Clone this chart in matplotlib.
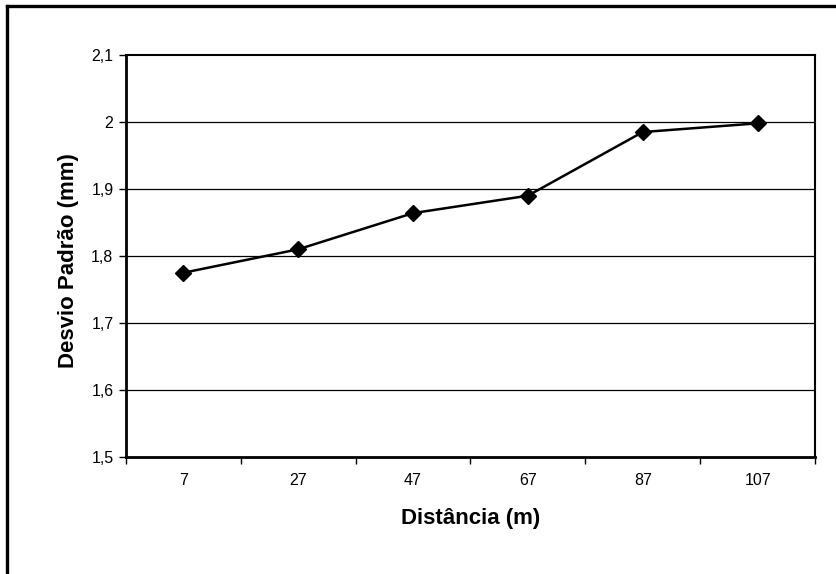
import matplotlib.pyplot as plt
from matplotlib.lines import Line2D
from matplotlib.ticker import FuncFormatter

plt.rcParams['font.family'] = ['Liberation Sans', 'DejaVu Sans']

distancias = ['7', '27', '47', '67', '87', '107']
desvio = [1.775, 1.81, 1.864, 1.89, 1.985, 1.998]
y_ticks = [1.5, 1.6, 1.7, 1.8, 1.9, 2.0, 2.1]

fig = plt.figure(figsize=(8.37, 5.74), dpi=100)
ax = fig.add_axes([0.1505, 0.2038, 0.8232, 0.7004])

x = [i + 0.5 for i in range(len(distancias))]
ax.plot(x, desvio, color='black', lw=1.8, marker='D', ms=8, mfc='black', mec='black', zorder=3)

ax.set_xlim(0, len(distancias))
ax.set_ylim(1.5, 2.1)
ax.set_yticks(y_ticks)
ax.yaxis.set_major_formatter(FuncFormatter(lambda v, p: ('%g' % round(v, 1)).replace('.', ',')))
for v in y_ticks[1:-1]:
    ax.axhline(v, color='black', lw=0.9, zorder=1)

ax.set_xticks(range(len(distancias) + 1))
ax.set_xticklabels([])
ax.set_xticks(x, minor=True)
ax.set_xticklabels(distancias, minor=True)
ax.tick_params(axis='x', which='minor', length=0, pad=11.5, labelsize=11.5)
ax.tick_params(axis='x', which='major', length=5, width=1, direction='out')
ax.tick_params(axis='y', length=5, width=1, direction='out', labelsize=11.5, pad=4)

for s in ['left', 'bottom']:
    ax.spines[s].set_linewidth(2)
for s in ['top', 'right']:
    ax.spines[s].set_linewidth(1.5)

ax.set_xlabel('Distância (m)', fontsize=16, fontweight='bold')
ax.set_ylabel('Desvio Padrão (mm)', fontsize=16, fontweight='bold')
ax.xaxis.set_label_coords(0.5007, -0.127)
ax.yaxis.set_label_coords(-0.068, 0.4876)

# outer frame (left and top edges visible)
fig.add_artist(Line2D([0.0084, 0.0084], [0.0, 0.9895], transform=fig.transFigure, color='black', lw=2.4))
fig.add_artist(Line2D([0.0084, 1.0], [0.9895, 0.9895], transform=fig.transFigure, color='black', lw=2.4))

fig.savefig('out.png', dpi=100, facecolor='white')
